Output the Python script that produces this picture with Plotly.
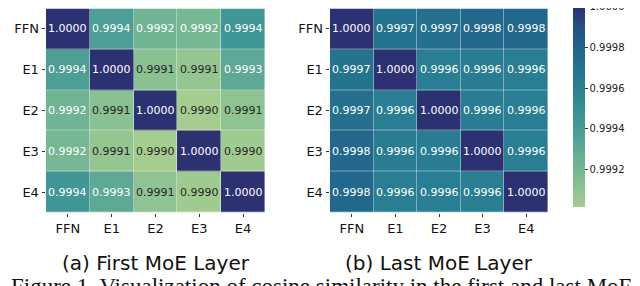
import plotly.graph_objects as go

labels = ["FFN", "E1", "E2", "E3", "E4"]

first_layer = [
    [1.00000, 0.99938, 0.99922, 0.99920, 0.99944],
    [0.99938, 1.00000, 0.99912, 0.99908, 0.99931],
    [0.99922, 0.99912, 1.00000, 0.99902, 0.99910],
    [0.99920, 0.99908, 0.99902, 1.00000, 0.99904],
    [0.99944, 0.99931, 0.99910, 0.99904, 1.00000],
]

last_layer = [
    [1.00000, 0.99970, 0.99972, 0.99977, 0.99978],
    [0.99970, 1.00000, 0.99962, 0.99963, 0.99962],
    [0.99972, 0.99962, 1.00000, 0.99963, 0.99962],
    [0.99977, 0.99963, 0.99963, 1.00000, 0.99962],
    [0.99978, 0.99962, 0.99962, 0.99962, 1.00000],
]

subplot_titles = ["(a) First MoE Layer", "(b) Last MoE Layer"]
cbar_ticks = [0.9992, 0.9994, 0.9996, 0.9998, 0.99999999]
caption = "Figure 1. Visualization of cosine similarity in the first and last MoE layers."

ZMIN, ZMAX = 0.99902, 1.0

crest = [
    [0.0, "#a5cd90"],
    [0.1, "#8bc192"],
    [0.2, "#72b594"],
    [0.3, "#5ca895"],
    [0.4, "#469b95"],
    [0.5, "#358e95"],
    [0.6, "#2a8093"],
    [0.7, "#24728f"],
    [0.8, "#22638b"],
    [0.9, "#255183"],
    [1.0, "#2c3172"],
]

W, H = 640, 286
FONT = "DejaVu Sans"

def px_x(p):
    return p / W

def px_y(p):
    return 1 - p / H

fig = go.Figure()

panels = [
    (first_layer, (38, 257), "x", "y", False),
    (last_layer, (322, 540), "x2", "y2", True),
]

annotations = []
for z, (x0, x1), xa, ya, show_cb in panels:
    fig.add_trace(go.Heatmap(
        z=z, x=labels, y=labels,
        xaxis=xa, yaxis=ya,
        zmin=ZMIN, zmax=ZMAX,
        colorscale=crest,
        xgap=0.4, ygap=0.4,
        showscale=show_cb,
        hoverinfo="skip",
        colorbar=dict(
            x=px_x(565), xanchor="left",
            y=px_y(98.5), yanchor="middle",
            len=200, lenmode="pixels",
            thickness=12, thicknessmode="pixels",
            outlinewidth=0,
            tickvals=cbar_ticks,
            ticktext=[f"{v:.4f}" for v in cbar_ticks],
            ticks="outside", ticklen=3, tickwidth=0.8, tickcolor="#333",
            tickfont=dict(family=FONT, size=10, color="#222"),
            ticklabeloverflow="allow",
            xpad=0, ypad=0,
        ),
    ))
    for i, row in enumerate(z):
        for j, v in enumerate(row):
            annotations.append(dict(
                x=labels[j], y=labels[i], xref=xa, yref=ya,
                text=f"{v:.4f}", showarrow=False,
                font=dict(family=FONT, size=11,
                          color="#262626" if v < 0.99916 else "white"),
            ))

for title, (x0, x1) in zip(subplot_titles, [(38, 257), (322, 540)]):
    annotations.append(dict(
        x=px_x((x0 + x1) / 2), y=px_y(255), xref="paper", yref="paper",
        text=title, showarrow=False, xanchor="center", yanchor="middle",
        font=dict(family=FONT, size=20, color="#111"),
    ))

annotations.append(dict(
    x=px_x(1), y=px_y(264), xref="paper", yref="paper",
    text=caption, showarrow=False, xanchor="left", yanchor="top",
    font=dict(family="Liberation Serif", size=23, color="#111"),
))

axis_common = dict(
    ticks="outside", ticklen=3.5, tickwidth=0.8, tickcolor="#333",
    tickfont=dict(family=FONT, size=13, color="#111"),
    showgrid=False, zeroline=False, showline=False,
)

fig.update_layout(
    width=W, height=H,
    margin=dict(l=0, r=0, t=0, b=0, autoexpand=False),
    paper_bgcolor="white", plot_bgcolor="white",
    annotations=annotations,
    xaxis=dict(domain=[px_x(38), px_x(257)], anchor="y", **axis_common),
    yaxis=dict(domain=[px_y(204.5), px_y(0.5)], anchor="x",
               autorange="reversed", **axis_common),
    xaxis2=dict(domain=[px_x(322), px_x(540)], anchor="y2", **axis_common),
    yaxis2=dict(domain=[px_y(204.5), px_y(0.5)], anchor="x2",
                autorange="reversed", **axis_common),
)

fig.write_html("out.html")
